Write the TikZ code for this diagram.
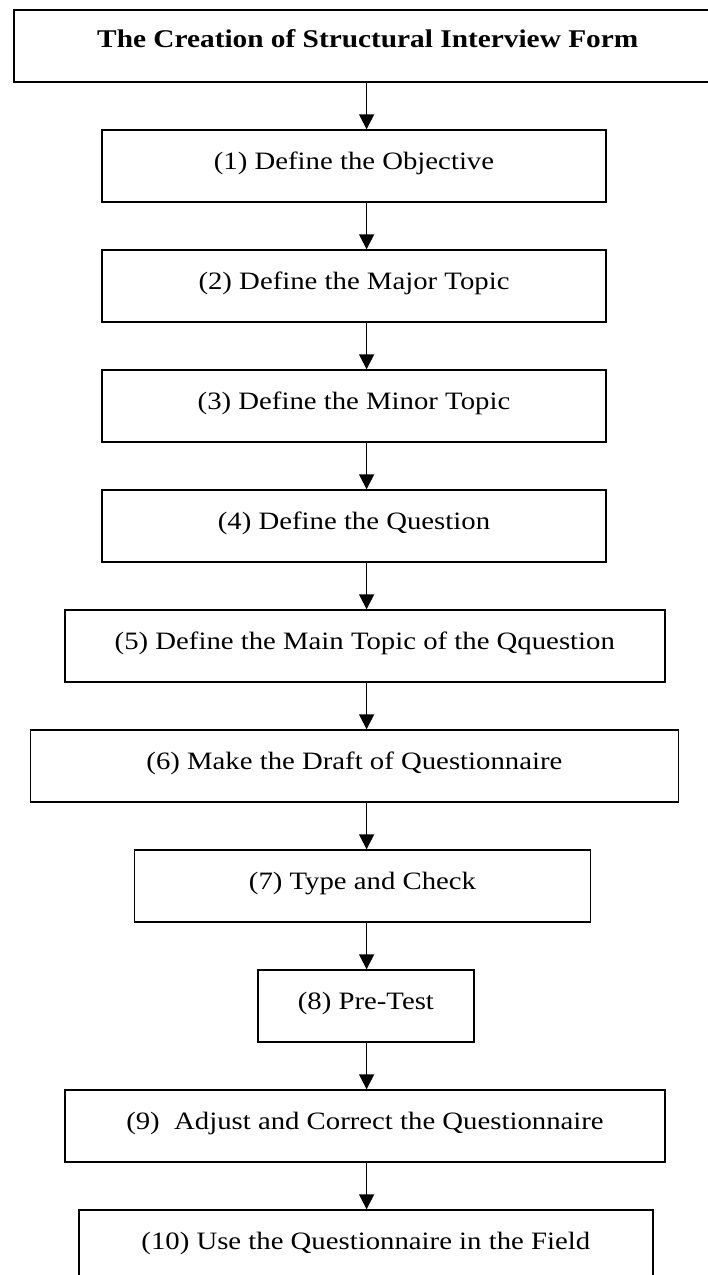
\documentclass[tikz,border=0pt]{standalone}
\usepackage{fontspec}
\setmainfont{Liberation Serif}[FakeStretch=1.15]
\usetikzlibrary{arrows.meta}
\tikzset{
  stepbox/.style={draw=black, line width=1.6pt, rectangle, anchor=north,
    inner xsep=0pt, inner ysep=0pt, text height=39pt, text depth=33pt,
    font=\fontsize{25}{30}\selectfont},
  titlebox/.style={stepbox, text height=37pt, text depth=35pt,
    font=\fontsize{25.5}{30}\selectfont\bfseries},
  arr/.style={line width=1.6pt, -{Triangle[width=15pt,length=15pt]}}
}
\begin{document}
\begin{tikzpicture}[x=1pt,y=1pt]
\useasboundingbox (0,0) rectangle (708,-1275);
\clip (0,0) rectangle (708,-1275);
\node[titlebox, minimum width=708pt] (t) at (367.75,-9.3) {The Creation of Structural Interview Form};
\node[stepbox, minimum width=504pt] (b1) at (354,-129.3) {(1) Define the Objective};
\node[stepbox, minimum width=504pt] (b2) at (354,-249.3) {(2) Define the Major Topic};
\node[stepbox, minimum width=504pt] (b3) at (354,-369.3) {(3) Define the Minor Topic};
\node[stepbox, minimum width=504pt] (b4) at (354,-489.3) {(4) Define the Question};
\node[stepbox, minimum width=600pt] (b5) at (364.8,-609.3) {(5) Define the Main Topic of the Qquestion};
\node[stepbox, minimum width=648pt] (b6) at (354.4,-729.3) {(6) Make the Draft of Questionnaire};
\node[stepbox, minimum width=456pt] (b7) at (362.5,-849.3) {(7) Type and Check};
\node[stepbox, minimum width=216pt] (b8) at (365.9,-969.3) {(8) Pre-Test};
\node[stepbox, minimum width=600pt] (b9) at (365,-1089.3) {(9)\ \ Adjust and Correct the Questionnaire};
\node[stepbox, minimum width=574pt] (b10) at (365.8,-1209.3) {(10) Use the Questionnaire in the Field};
\coordinate (ax) at (366.6,0);
\draw[arr] (t.south -| ax) -- (b1.north -| ax);
\draw[arr] (b1.south -| ax) -- (b2.north -| ax);
\draw[arr] (b2.south -| ax) -- (b3.north -| ax);
\draw[arr] (b3.south -| ax) -- (b4.north -| ax);
\draw[arr] (b4.south -| ax) -- (b5.north -| ax);
\draw[arr] (b5.south -| ax) -- (b6.north -| ax);
\draw[arr] (b6.south -| ax) -- (b7.north -| ax);
\draw[arr] (b7.south -| ax) -- (b8.north -| ax);
\draw[arr] (b8.south -| ax) -- (b9.north -| ax);
\draw[arr] (b9.south -| ax) -- (b10.north -| ax);
\end{tikzpicture}
\end{document}
